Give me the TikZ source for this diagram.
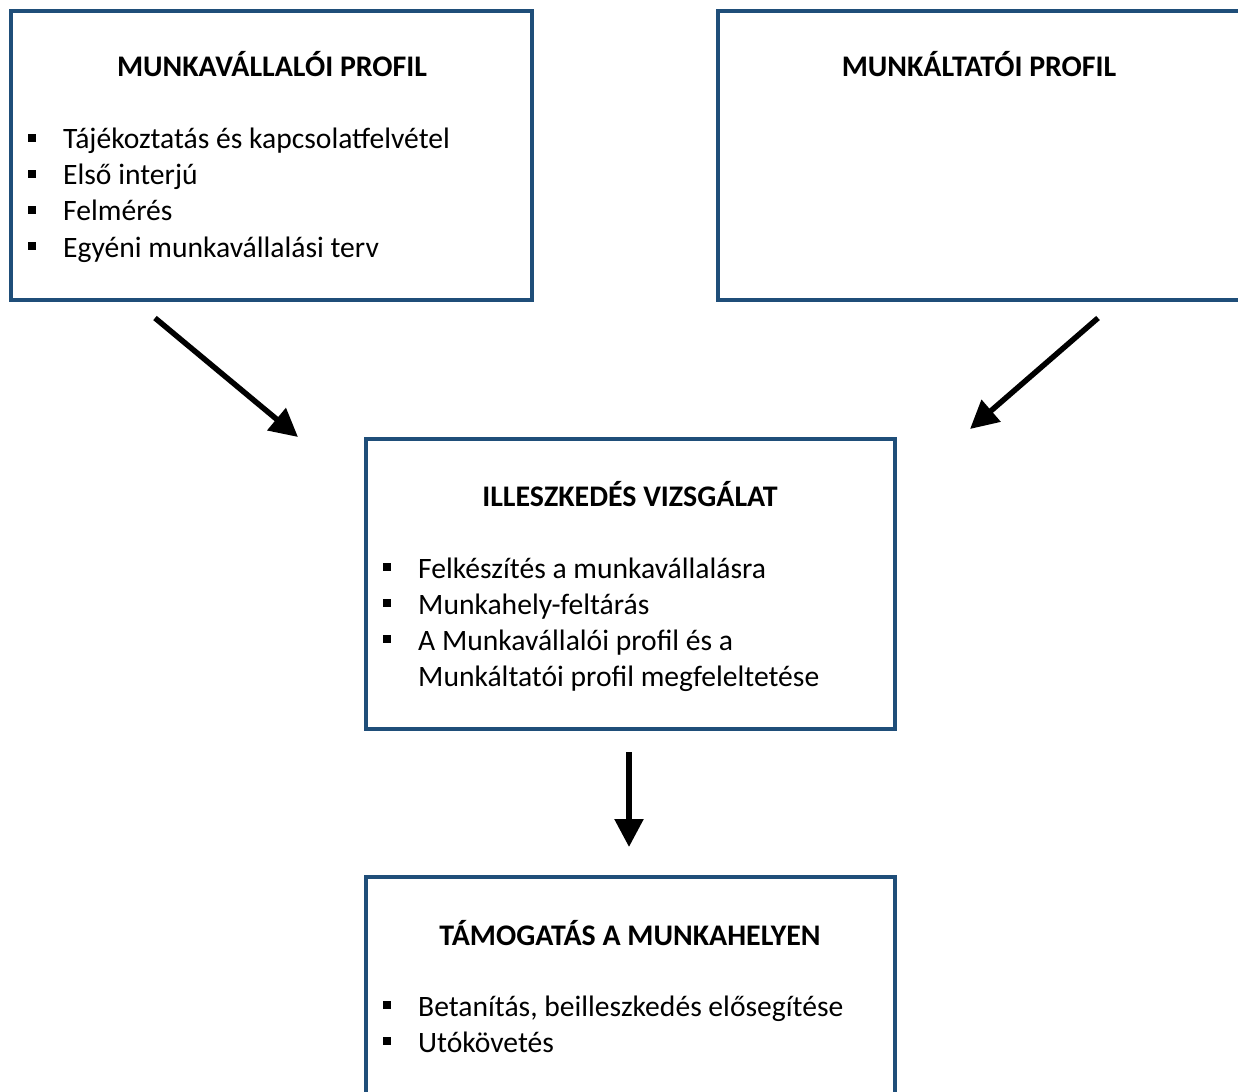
\documentclass[tikz,border=0pt]{standalone}
\usepackage{fontspec}
\setmainfont{Carlito}
\usetikzlibrary{arrows.meta}
\definecolor{boxblue}{HTML}{1F4E79}
\tikzset{
  box/.style={draw=boxblue, line width=3.3pt, fill=none, inner sep=0pt},
  ttl/.style={anchor=base, inner sep=0pt, font=\fontsize{29.9}{36}\selectfont\bfseries},
  itm/.style={anchor=base west, inner sep=0pt, font=\fontsize{29.6}{36}\selectfont},
  bul/.style={fill=black, minimum size=7.5pt, inner sep=0pt},
  arr/.style={line width=5.5pt, -{Triangle[length=28pt,width=28pt]}}
}
\begin{document}
\begin{tikzpicture}[x=1pt,y=-1pt]
\useasboundingbox (0,0) rectangle (1238,1091);
% boxes
\node[box, minimum width=521pt, minimum height=289pt] (b1) at (271.5,155.5) {};
\node[box, minimum width=530pt, minimum height=289pt] (b2) at (983,155.5) {};
\node[box, minimum width=529pt, minimum height=290pt] (b3) at (630.5,584) {};
\node[box, minimum width=529pt, minimum height=240pt] (b4) at (630.5,997) {};
% box 1
\node[ttl] (t1) at (272,77) {MUNKAVÁLLALÓI PROFIL};
\node[bul] (p11) at (32,138) {};
\node[itm] (i11) at (63,149) {Tájékoztatás és kapcsolatfelvétel};
\node[bul] (p12) at (32,174) {};
\node[itm] (i12) at (63,185) {Első interjú};
\node[bul] (p13) at (32,210) {};
\node[itm] (i13) at (63,221) {Felmérés};
\node[bul] (p14) at (32,246) {};
\node[itm] (i14) at (63,257) {Egyéni munkavállalási terv};
% box 2
\node[ttl] (t2) at (979,77) {MUNKÁLTATÓI PROFIL};
% box 3
\node[ttl] (t3) at (630,506) {ILLESZKEDÉS VIZSGÁLAT};
\node[bul] (p31) at (387,567) {};
\node[itm] (i31) at (418,578) {Felkészítés a munkavállalásra};
\node[bul] (p32) at (387,603) {};
\node[itm] (i32) at (418,614) {Munkahely-feltárás};
\node[bul] (p33) at (387,639) {};
\node[itm] (i33) at (418,650) {A Munkavállalói profil és a};
\node[itm] (i34) at (418,686) {Munkáltatói profil megfeleltetése};
% box 4
\node[ttl] (t4) at (630,945) {TÁMOGATÁS A MUNKAHELYEN};
\node[bul] (p41) at (387,1005) {};
\node[itm] (i41) at (418,1016) {Betanítás, beilleszkedés elősegítése};
\node[bul] (p42) at (387,1041) {};
\node[itm] (i42) at (418,1052) {Utókövetés};
% arrows
\coordinate (a1s) at (155,318);
\coordinate (a1e) at (298,437);
\coordinate (a2s) at (1098,318);
\coordinate (a2e) at (970,429);
\coordinate (a3s) at (629,752);
\coordinate (a3e) at (629,847);
\draw[arr] (a1s) -- (a1e);
\draw[arr] (a2s) -- (a2e);
\draw[arr] (a3s) -- (a3e);
\end{tikzpicture}
\end{document}
